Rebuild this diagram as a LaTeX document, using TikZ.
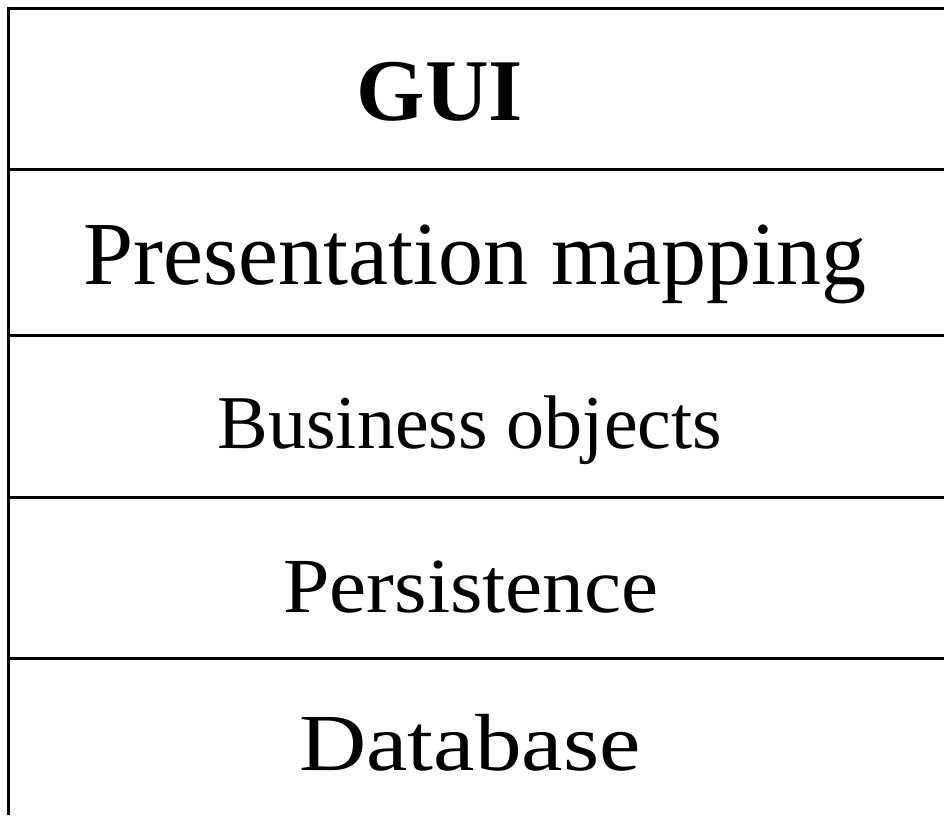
\documentclass[tikz,border=0pt]{standalone}
\usepackage{fontspec}
\setmainfont{Liberation Serif}
\newfontfamily\persfont[FakeStretch=1.07]{Liberation Serif}
\newfontfamily\dbfont[FakeStretch=1.15]{Liberation Serif}
\begin{document}
\begin{tikzpicture}[x=1pt,y=-1pt,
  rule/.style={line width=3.4pt,black},
  layer/.style={anchor=base,inner sep=0pt,font=#1},
  layer/.default={\fontsize{77}{80}\selectfont}]
  \useasboundingbox (0,0) rectangle (944,815);
  % frame: top edge and left edge run off the page
  \coordinate (tl) at (8.5,8.5);
  \coordinate (tr) at (944,8.5);
  \coordinate (bl) at (8.5,815);
  \draw[rule] (tr) -- (tl) -- (bl);
  % separators between the layers
  \foreach \name/\y in {s1/169.5,s2/335.5,s3/497.5,s4/658.5}{
    \coordinate (\name l) at (8.5,\y);
    \coordinate (\name r) at (944,\y);
    \draw[rule] (\name l) -- (\name r);
  }
  % layer names
  \node[layer={\fontsize{88}{90}\selectfont\bfseries}] (gui) at (440,120) {GUI};
  \node[layer={\fontsize{90}{92}\selectfont}] (pres) at (475,284) {Presentation mapping};
  \node[layer={\fontsize{76}{80}\selectfont}] (bus) at (470,448) {Business objects};
  \node[layer={\persfont\fontsize{78}{80}\selectfont}] (pers) at (471,612) {Persistence};
  \node[layer={\dbfont\fontsize{81}{84}\selectfont}] (db) at (470,770) {Database};
\end{tikzpicture}
\end{document}
